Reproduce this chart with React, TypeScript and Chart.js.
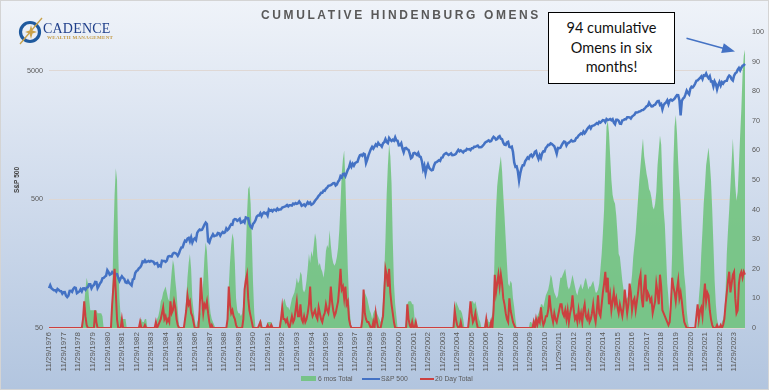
import React, { useEffect, useRef } from "react";
import { Chart, registerables } from "chart.js";

Chart.register(...registerables);

// Monthly data starting November 1976 (index 0) through August 2024
const START_YEAR = 1976;
const START_MONTH = 11;
const TICK_MONTH = 11;
const TICK_DAY = 29;

// S&P 500 (left, log scale)
const SP500 = [
  102.1, 107.5,
  102.0, 99.8, 98.4, 98.4, 96.1, 100.5, 98.9, 96.8, 96.5, 92.3, 94.8, 95.1,
  89.3, 87.0, 89.2, 97.0, 97.2, 95.5, 100.7, 103.3, 102.5, 93.2, 94.7, 96.1,
  99.9, 96.3, 101.6, 101.8, 99.1, 102.9, 103.8, 109.3, 109.3, 101.8, 106.2, 107.9,
  114.2, 113.7, 102.1, 106.3, 111.2, 114.2, 121.7, 122.4, 125.5, 127.5, 140.5, 135.8,
  129.6, 131.3, 136.0, 132.8, 132.6, 131.2, 130.9, 122.8, 116.2, 121.9, 126.4, 122.6,
  120.4, 113.1, 112.0, 116.4, 111.9, 109.6, 107.1, 119.5, 120.4, 133.7, 138.5, 140.6,
  145.3, 148.1, 153.0, 164.4, 162.4, 168.1, 162.6, 164.4, 166.1, 163.6, 166.4, 164.9,
  163.4, 157.1, 159.2, 160.1, 150.6, 153.2, 150.7, 166.7, 166.1, 166.1, 163.6, 167.2,
  179.6, 181.2, 180.7, 179.8, 189.6, 191.9, 190.9, 188.6, 182.1, 189.8, 202.2, 211.3,
  211.8, 226.9, 238.9, 235.5, 247.4, 250.8, 236.1, 252.9, 231.3, 244.0, 249.2, 242.2,
  274.1, 284.2, 291.7, 288.4, 290.1, 304.0, 318.7, 329.8, 321.8, 235.0, 230.3, 247.1,
  257.1, 267.8, 258.9, 261.3, 262.2, 273.5, 272.0, 261.5, 271.9, 279.0, 273.7, 277.7,
  297.5, 288.9, 294.9, 309.6, 320.5, 318.0, 346.1, 351.5, 349.2, 340.4, 346.0, 353.4,
  329.1, 331.9, 339.9, 330.8, 361.2, 358.0, 356.2, 322.6, 306.1, 300.0, 322.2, 330.2,
  343.9, 367.1, 375.2, 375.3, 389.8, 371.2, 387.8, 395.4, 387.9, 392.5, 375.2, 417.1,
  408.8, 412.7, 403.7, 415.0, 415.4, 408.1, 424.2, 414.0, 417.8, 418.7, 431.4, 435.7,
  438.8, 443.4, 451.7, 440.2, 450.2, 450.5, 448.1, 463.6, 458.9, 467.8, 461.8, 466.5,
  481.6, 467.1, 445.8, 450.9, 456.5, 444.3, 458.3, 475.5, 462.7, 472.4, 453.7, 459.3,
  470.4, 487.4, 500.7, 514.7, 533.4, 544.8, 562.1, 561.9, 584.4, 581.5, 605.4, 615.9,
  636.0, 640.4, 645.5, 654.2, 669.1, 670.6, 639.9, 652.0, 687.3, 705.3, 757.0, 740.7,
  786.2, 790.8, 757.1, 801.3, 848.3, 885.1, 954.3, 899.5, 947.3, 914.6, 955.4, 970.4,
  980.3, 1049.3, 1101.8, 1111.8, 1090.8, 1133.8, 1120.7, 957.3, 1017.0, 1098.7, 1163.6, 1229.2,
  1279.6, 1238.3, 1286.4, 1335.2, 1301.8, 1372.7, 1328.7, 1320.4, 1282.7, 1362.9, 1388.9, 1469.3,
  1394.5, 1366.4, 1498.6, 1452.4, 1420.6, 1454.6, 1430.8, 1517.7, 1436.5, 1429.4, 1315.2, 1320.3,
  1366.0, 1239.9, 1160.3, 1249.5, 1255.8, 1224.4, 1211.2, 1133.6, 1040.9, 1059.8, 1139.5, 1148.1,
  1130.2, 1106.7, 1147.4, 1076.9, 1067.1, 989.8, 860.0, 916.1, 800.0, 885.8, 936.3, 879.8,
  855.7, 841.2, 848.2, 916.9, 963.6, 974.5, 990.3, 1008.0, 996.0, 1050.7, 1058.2, 1111.9,
  1131.1, 1144.9, 1126.2, 1107.3, 1120.7, 1140.8, 1101.7, 1104.2, 1114.6, 1130.2, 1173.8, 1211.9,
  1181.3, 1203.6, 1180.6, 1156.9, 1191.5, 1191.3, 1234.2, 1220.3, 1228.8, 1207.0, 1249.5, 1248.3,
  1280.1, 1280.7, 1294.9, 1310.6, 1270.1, 1270.2, 1276.7, 1303.8, 1335.9, 1377.9, 1400.6, 1418.3,
  1438.2, 1406.8, 1420.9, 1482.4, 1530.6, 1503.4, 1455.3, 1474.0, 1526.8, 1549.4, 1481.1, 1468.4,
  1378.6, 1330.6, 1322.7, 1385.6, 1400.4, 1280.0, 1267.4, 1282.8, 1166.4, 968.8, 896.2, 903.3,
  825.9, 700.0, 797.9, 872.8, 919.1, 919.3, 987.5, 1020.6, 1057.1, 1036.2, 1095.6, 1115.1,
  1073.9, 1104.5, 1169.4, 1186.7, 1089.4, 1030.7, 1101.6, 1049.3, 1141.2, 1183.3, 1180.6, 1257.6,
  1286.1, 1327.2, 1325.8, 1363.6, 1345.2, 1320.6, 1292.3, 1218.9, 1131.4, 1253.3, 1247.0, 1257.6,
  1312.4, 1365.7, 1408.5, 1397.9, 1310.3, 1362.2, 1379.3, 1406.6, 1440.7, 1412.2, 1416.2, 1426.2,
  1498.1, 1514.7, 1569.2, 1597.6, 1630.7, 1606.3, 1685.7, 1633.0, 1681.6, 1756.5, 1805.8, 1848.4,
  1782.6, 1859.5, 1872.3, 1884.0, 1923.6, 1960.2, 1930.7, 2003.4, 1972.3, 2018.1, 2067.6, 2058.9,
  1995.0, 2104.5, 2067.9, 2085.5, 2107.4, 2063.1, 2103.8, 1972.2, 1920.0, 2079.4, 2080.4, 2043.9,
  1940.2, 1932.2, 2059.7, 2065.3, 2097.0, 2098.9, 2173.6, 2171.0, 2168.3, 2126.2, 2199.0, 2238.8,
  2278.9, 2363.6, 2362.7, 2384.2, 2411.8, 2423.4, 2470.3, 2471.7, 2519.4, 2575.3, 2647.6, 2673.6,
  2823.8, 2713.8, 2640.9, 2648.1, 2705.3, 2718.4, 2816.3, 2901.5, 2914.0, 2711.7, 2760.2, 2506.9,
  2704.1, 2784.5, 2834.4, 2945.8, 2752.1, 2941.8, 2980.4, 2926.5, 2976.7, 3037.6, 3141.0, 3230.8,
  3225.5, 2954.2, 2250.0, 2912.4, 3044.3, 3100.3, 3271.1, 3500.3, 3363.0, 3270.0, 3621.6, 3756.1,
  3714.2, 3811.2, 3972.9, 4181.2, 4204.1, 4297.5, 4395.3, 4522.7, 4307.5, 4605.4, 4567.0, 4766.2,
  4515.6, 4373.9, 4530.4, 4131.9, 4132.2, 3785.4, 4130.3, 3955.0, 3585.6, 3872.0, 4080.1, 3839.5,
  4076.6, 3970.2, 4109.3, 4169.5, 4179.8, 4450.4, 4589.0, 4507.7, 4288.1, 4193.8, 4567.8, 4769.8,
  4845.7, 5096.3, 5254.4, 5035.7, 5277.5, 5460.5, 5522.3, 5648.4,
];

// 6 mos Total (right axis)
const SIX_MONTH = [
  0, 0,
  0, 0, 0, 0, 0, 0, 0, 0, 0, 0, 0, 0,
  0, 0, 0, 0, 0, 0, 0, 0, 0, 0, 0, 0,
  0, 0, 2, 8, 13, 17, 15, 10, 6, 6, 6, 6,
  6, 6, 5, 5, 5, 5, 4, 0, 0, 0, 0, 0,
  0, 0, 10, 30, 45, 54, 50, 25, 10, 4, 3, 3,
  3, 3, 0, 0, 0, 0, 0, 0, 0, 0, 0, 0,
  0, 3, 3, 2, 2, 3, 3, 0, 0, 0, 0, 0,
  0, 0, 1, 3, 4, 6, 9, 10, 12, 13, 14, 12,
  10, 9, 14, 19, 23, 21, 16, 12, 6, 1, 0, 0,
  0, 0, 4, 10, 17, 22, 25, 20, 10, 6, 3, 0,
  2, 3, 4, 6, 10, 16, 24, 29, 26, 18, 9, 5,
  3, 2, 1, 0, 0, 0, 0, 0, 0, 0, 0, 0,
  0, 4, 14, 22, 28, 32, 30, 22, 10, 6, 5, 5,
  4, 5, 8, 13, 25, 38, 47, 48, 42, 30, 15, 5,
  0, 0, 0, 2, 3, 2, 0, 0, 0, 0, 2, 2,
  2, 2, 1, 0, 0, 0, 0, 0, 2, 4, 7, 9,
  10, 8, 7, 7, 6, 8, 10, 11, 12, 14, 17, 15,
  16, 19, 18, 13, 12, 13, 16, 20, 25, 22, 26, 24,
  28, 32, 30, 24, 21, 22, 20, 19, 17, 20, 26, 28,
  27, 33, 28, 24, 22, 21, 22, 24, 27, 33, 42, 52,
  57, 60, 50, 35, 20, 10, 4, 0, 0, 0, 0, 0,
  0, 0, 0, 0, 8, 13, 12, 11, 10, 8, 6, 5,
  3, 5, 6, 6, 5, 4, 3, 2, 4, 9, 18, 30,
  45, 55, 62, 58, 49, 30, 15, 8, 4, 0, 0, 0,
  0, 0, 0, 0, 3, 8, 9, 9, 9, 8, 8, 3,
  2, 1, 0, 0, 0, 0, 0, 0, 0, 0, 0, 0,
  0, 0, 0, 0, 0, 0, 0, 0, 0, 0, 0, 0,
  0, 0, 0, 0, 0, 0, 0, 0, 6, 9, 8, 7,
  6, 6, 5, 3, 0, 0, 0, 0, 4, 8, 9, 9,
  8, 9, 7, 5, 3, 2, 0, 0, 0, 2, 3, 3,
  2, 2, 3, 5, 10, 28, 40, 48, 52, 55, 58, 53,
  45, 38, 30, 22, 15, 14, 16, 15, 10, 7, 3, 0,
  0, 0, 0, 0, 0, 0, 0, 0, 0, 0, 2, 2,
  1, 2, 3, 3, 4, 5, 6, 8, 8, 7, 9, 11,
  12, 13, 15, 18, 17, 14, 12, 11, 10, 11, 14, 17,
  17, 18, 19, 20, 17, 14, 13, 14, 16, 18, 16, 14,
  12, 11, 13, 14, 15, 13, 14, 16, 17, 15, 13, 14,
  14, 15, 16, 14, 12, 12, 13, 15, 20, 25, 32, 40,
  55, 68, 70, 66, 58, 50, 45, 43, 42, 38, 32, 25,
  24, 20, 16, 13, 11, 10, 10, 11, 12, 14, 18, 24,
  28, 32, 38, 44, 50, 55, 60, 64, 58, 55, 52, 50,
  47, 46, 44, 41, 40, 42, 46, 55, 60, 65, 62, 50,
  40, 35, 25, 15, 10, 3, 12, 25, 55, 68, 72, 66,
  56, 48, 42, 33, 25, 18, 14, 6, 2, 0, 0, 0,
  0, 0, 0, 0, 3, 10, 15, 25, 33, 42, 48, 55,
  58, 61, 56, 50, 40, 28, 16, 8, 3, 1, 0, 0,
  2, 3, 5, 12, 25, 33, 40, 48, 56, 64, 56, 48,
  43, 46, 55, 65, 74, 86, 92, 94,
];

// 20 Day Total (right axis)
const TWENTY_DAY = [
  0, 0,
  0, 0, 0, 0, 0, 0, 0, 0, 0, 0, 0, 0,
  0, 0, 0, 0, 0, 0, 0, 0, 0, 0, 0, 0,
  0, 0, 3, 9, 4, 1, 0, 0, 0, 0, 0, 0,
  6, 2, 0, 0, 0, 0, 0, 0, 0, 0, 0, 0,
  0, 0, 8, 14, 20, 12, 3, 0, 0, 0, 3, 0,
  0, 0, 0, 0, 0, 0, 0, 0, 0, 0, 0, 0,
  0, 2, 0, 0, 0, 1, 0, 0, 0, 0, 0, 0,
  0, 0, 2, 0, 1, 2, 3, 5, 7, 3, 4, 2,
  3, 2, 9, 5, 6, 9, 7, 3, 1, 0, 0, 0,
  0, 0, 3, 6, 11, 8, 9, 5, 4, 2, 0, 0,
  0, 0, 6, 17, 10, 5, 8, 7, 9, 5, 2, 0,
  1, 0, 0, 0, 0, 0, 0, 0, 0, 0, 0, 0,
  0, 3, 14, 8, 5, 6, 4, 3, 1, 0, 0, 0,
  0, 0, 3, 13, 16, 18, 10, 6, 4, 2, 0, 0,
  0, 0, 0, 1, 2, 0, 0, 0, 0, 0, 1, 0,
  0, 1, 0, 0, 0, 0, 0, 0, 0, 3, 7, 3,
  3, 2, 3, 1, 0, 2, 4, 2, 3, 6, 9, 4,
  4, 8, 3, 2, 4, 2, 3, 5, 8, 14, 6, 4,
  5, 6, 4, 3, 7, 5, 3, 2, 4, 5, 8, 6,
  5, 8, 14, 9, 6, 4, 5, 7, 9, 14, 20, 13,
  14, 10, 14, 8, 9, 3, 1, 0, 0, 0, 0, 0,
  0, 0, 0, 0, 3, 13, 5, 3, 2, 2, 1, 0,
  0, 2, 0, 5, 2, 0, 0, 0, 2, 4, 12, 20,
  18, 14, 20, 12, 8, 5, 2, 0, 0, 0, 0, 0,
  0, 0, 0, 0, 0, 8, 3, 1, 0, 2, 0, 0,
  2, 0, 0, 0, 0, 0, 0, 0, 0, 0, 0, 0,
  0, 0, 0, 0, 0, 0, 0, 0, 0, 0, 0, 0,
  0, 0, 0, 0, 0, 0, 0, 0, 6, 3, 1, 0,
  0, 2, 0, 0, 0, 0, 0, 0, 4, 9, 5, 2,
  3, 5, 2, 0, 0, 0, 0, 0, 0, 0, 3, 0,
  0, 0, 2, 0, 6, 18, 12, 15, 18, 14, 18, 15,
  10, 8, 5, 3, 2, 10, 6, 4, 2, 1, 0, 0,
  0, 0, 0, 0, 0, 0, 0, 0, 0, 0, 0, 0,
  0, 2, 0, 3, 1, 3, 2, 7, 3, 1, 2, 4,
  4, 6, 11, 7, 4, 2, 5, 3, 2, 4, 6, 8,
  8, 5, 4, 6, 3, 6, 2, 5, 7, 11, 6, 3,
  4, 2, 6, 3, 5, 2, 6, 8, 4, 3, 5, 2,
  3, 5, 8, 4, 2, 6, 11, 5, 4, 8, 12, 15,
  19, 12, 17, 8, 11, 6, 9, 12, 8, 10, 7, 5,
  8, 6, 4, 7, 13, 9, 5, 8, 15, 12, 6, 9,
  10, 6, 9, 12, 16, 18, 10, 7, 14, 18, 9, 12,
  11, 9, 10, 5, 7, 9, 15, 12, 8, 18, 14, 6,
  5, 4, 3, 2, 1, 2, 8, 17, 14, 12, 9, 13,
  16, 10, 12, 9, 5, 2, 1, 0, 0, 0, 0, 0,
  0, 0, 0, 4, 8, 3, 6, 7, 4, 10, 15, 9,
  12, 11, 6, 3, 1, 0, 0, 0, 1, 0, 0, 1,
  0, 1, 3, 8, 12, 16, 19, 12, 15, 18, 19, 10,
  5, 6, 15, 18, 19, 17, 19, 18,
];

const LEFT_TICKS = [50, 500, 5000];

const CATEGORIES: { month: number; year: number }[] = SP500.map((_, i) => {
  const k = START_MONTH - 1 + i;
  return { month: (k % 12) + 1, year: START_YEAR + Math.floor(k / 12) };
});
const LABELS = CATEGORIES.map((c) => `${c.month}/${c.year}`);

const GREEN = "rgba(108,194,120,0.85)";
const BLUE = "#4472C4";
const RED = "#cc4040";
const TICK_COLOR = "#595959";
const FONT = "'Liberation Sans', Arial, sans-serif";

export default function App() {
  const ref = useRef<HTMLCanvasElement | null>(null);

  useEffect(() => {
    if (!ref.current) return;
    const chart = new Chart(ref.current, {
      type: "line",
      data: {
        labels: LABELS,
        datasets: [
          {
            label: "20 Day Total",
            data: TWENTY_DAY,
            yAxisID: "y1",
            borderColor: RED,
            borderWidth: 2,
            pointRadius: 0,
            tension: 0,
            fill: false,
            order: 0,
          },
          {
            label: "S&P 500",
            data: SP500,
            yAxisID: "y",
            borderColor: BLUE,
            borderWidth: 2.5,
            pointRadius: 0,
            tension: 0,
            fill: false,
            order: 1,
          },
          {
            label: "6 mos Total",
            data: SIX_MONTH,
            yAxisID: "y1",
            borderWidth: 0,
            borderColor: "rgba(0,0,0,0)",
            backgroundColor: GREEN,
            pointRadius: 0,
            tension: 0,
            fill: "origin",
            order: 2,
          },
        ],
      },
      options: {
        animation: false,
        responsive: false,
        maintainAspectRatio: false,
        layout: { padding: { top: 32, left: 0, right: 0, bottom: 0 } },
        plugins: {
          legend: { display: false },
          tooltip: { enabled: false },
          title: { display: false },
        },
        scales: {
          x: {
            type: "category",
            offset: false,
            grid: { display: false, drawTicks: false },
            border: { display: false },
            ticks: {
              autoSkip: false,
              minRotation: 90,
              maxRotation: 90,
              padding: 4,
              color: TICK_COLOR,
              font: { family: FONT, size: 8 },
              callback: (value: any) => {
                const c = CATEGORIES[Number(value)];
                return `${TICK_MONTH}/${TICK_DAY}/${c.year}`;
              },
            },
            afterBuildTicks: (s: any) => {
              s.ticks = s.ticks.filter((t: any) => CATEGORIES[t.value] && CATEGORIES[t.value].month === TICK_MONTH);
            },
            afterFit: (s: any) => {
              s.height = 62;
            },
          },
          y: {
            type: "logarithmic",
            position: "left",
            min: 50,
            max: 10000,
            grid: { color: "rgba(222,214,210,0.9)", lineWidth: 1, drawTicks: false },
            border: { display: false },
            ticks: {
              padding: 6,
              color: TICK_COLOR,
              font: { family: FONT, size: 7.2 },
              callback: (v: any) => String(v),
            },
            afterBuildTicks: (s: any) => {
              s.ticks = LEFT_TICKS.map((v) => ({ value: v }));
            },
            title: {
              display: true,
              text: "S&P 500",
              color: "#404040",
              font: { family: FONT, size: 6.5, weight: "bold" },
              padding: { top: 13, bottom: 0 },
            },
            afterFit: (s: any) => {
              s.width = 49;
            },
          },
          y1: {
            type: "linear",
            position: "right",
            min: 0,
            max: 100,
            grid: { display: false, drawTicks: false },
            border: { display: false },
            ticks: {
              stepSize: 10,
              padding: 7,
              color: TICK_COLOR,
              font: { family: FONT, size: 7.2 },
            },
            afterFit: (s: any) => {
              s.width = 24;
            },
          },
        },
      },
    } as any);
    return () => chart.destroy();
  }, []);

  const legendText: React.CSSProperties = {
    position: "absolute",
    top: 373,
    lineHeight: "10px",
    fontSize: 6.8,
    fontFamily: FONT,
    color: TICK_COLOR,
    whiteSpace: "nowrap",
  };

  return (
    <div
      style={{
        position: "fixed",
        left: 0,
        top: 0,
        width: 769,
        height: 390,
        overflow: "hidden",
        background: "linear-gradient(180deg, #eff3f9 0%, #d6e0ef 40%, #b2c5df 100%)",
        boxSizing: "border-box",
        border: "1px solid #d4d4d4",
      }}
    >
      <canvas
        ref={ref}
        width={769}
        height={390}
        style={{ position: "absolute", left: -1, top: -1, width: 769, height: 390 }}
      />
      {/* Title */}
      <div
        style={{
          position: "absolute",
          left: 199,
          top: 7,
          width: 402,
          textAlign: "center",
          fontFamily: FONT,
          fontWeight: "bold",
          fontSize: 12,
          letterSpacing: "2.6px",
          color: "#595959",
          lineHeight: "14px",
        }}
      >
        CUMULATIVE HINDENBURG OMENS
      </div>
      {/* Logo */}
      <svg width={120} height={60} style={{ position: "absolute", left: -1, top: -1 }}>
        <circle cx={30} cy={32} r={9.5} fill="none" stroke="#1f5a9e" strokeWidth={3.2} />
        <line x1={20} y1={44} x2={42} y2={18} stroke="#c9a24a" strokeWidth={1.3} />
        <polygon points="31,25 32.5,30.5 37,32 32.5,33.5 31,39 29.5,33.5 25,32 29.5,30.5" fill="#c9a24a" />
      </svg>
      <div
        style={{
          position: "absolute",
          left: 42,
          top: 20,
          fontFamily: "'Liberation Serif', 'DejaVu Serif', serif",
          fontSize: 14,
          color: "#1f3f8a",
          lineHeight: "16px",
          letterSpacing: "0.2px",
        }}
      >
        CADENCE
      </div>
      <div
        style={{
          position: "absolute",
          left: 46,
          top: 34,
          fontFamily: "'Liberation Serif', 'DejaVu Serif', serif",
          fontSize: 5,
          fontWeight: "bold",
          color: "#c39a45",
          lineHeight: "6px",
          letterSpacing: "0.3px",
          whiteSpace: "nowrap",
        }}
      >
        WEALTH MANAGEMENT
      </div>
      {/* Annotation */}
      <div
        style={{
          position: "absolute",
          left: 547,
          top: 11,
          width: 127,
          height: 72,
          boxSizing: "border-box",
          border: "1px solid #000",
          background: "#fff",
          textAlign: "center",
          fontFamily: "Lato, 'Liberation Sans', sans-serif",
          fontSize: 14.5,
          lineHeight: "19.5px",
          color: "#111",
          paddingTop: 5,
        }}
      >
        94 cumulative
        <br />
        Omens in six
        <br />
        months!
      </div>
      <svg width={769} height={390} style={{ position: "absolute", left: -1, top: -1, pointerEvents: "none" }}>
        <line x1={686.5} y1={38.3} x2={723} y2={48.2} stroke={BLUE} strokeWidth={1.5} />
        <polygon points="735,51.5 723.8,43.3 721.2,52.9" fill={BLUE} />
      </svg>
      {/* Legend */}
      <div style={{ position: "absolute", left: 300, top: 375, width: 15, height: 5, background: GREEN }} />
      <div style={{ ...legendText, left: 317 }}>6 mos Total</div>
      <div style={{ position: "absolute", left: 361, top: 376.5, width: 18, height: 2, background: BLUE }} />
      <div style={{ ...legendText, left: 380 }}>S&amp;P 500</div>
      <div style={{ position: "absolute", left: 419, top: 376.5, width: 14, height: 2, background: RED }} />
      <div style={{ ...legendText, left: 434 }}>20 Day Total</div>
    </div>
  );
}
